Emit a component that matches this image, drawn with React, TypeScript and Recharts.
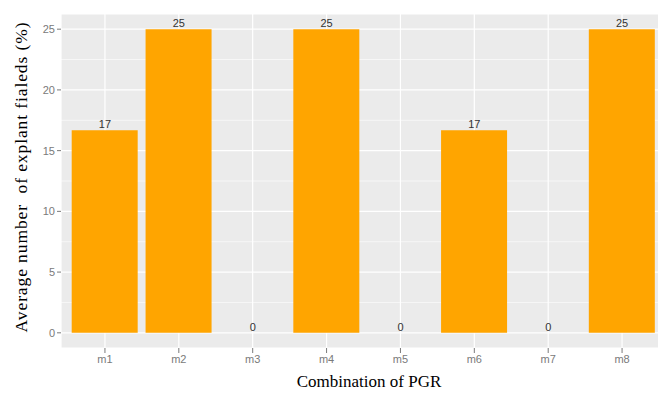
import React from 'react';
import { ComposedChart, Bar, Line, XAxis, YAxis, CartesianGrid, LabelList } from 'recharts';

const combos = ['m1', 'm2', 'm3', 'm4', 'm5', 'm6', 'm7', 'm8'];
const failed = [16.67, 25, 0, 25, 0, 16.67, 0, 25];
const majorTicks = [0, 5, 10, 15, 20, 25];
const minorTicks = [2.5, 7.5, 12.5, 17.5, 22.5];

const data = combos.map((c, i) => ({ combo: c, value: failed[i] }));

const tickStyle = { fontSize: 11, fill: '#7a7a7a', fontFamily: 'Liberation Sans, Arial, sans-serif' };
const serif = 'Liberation Serif, Times New Roman, serif';

const YTitle = () => (
  <text
    x={21}
    y={177}
    transform="rotate(-90 21 177)"
    textAnchor="middle"
    dominantBaseline="central"
    fontSize={17.5}
    fontFamily={serif}
    letterSpacing={0.9}
    fill="#000"
    style={{ whiteSpace: 'pre' }}
  >
    Average number  of explant fialeds (%)
  </text>
);

const XTitle = () => (
  <text x={369} y={387} textAnchor="middle" fontSize={17} fontFamily={serif} fill="#000">
    Combination of PGR
  </text>
);

export default function App() {
  return (
    <div style={{ position: 'absolute', left: 0, top: 0, width: 658, height: 393, overflow: 'hidden', background: '#fff' }}>
      <ComposedChart
        width={666}
        height={393}
        data={data}
        margin={{ top: 14, right: 0, bottom: 0, left: 0 }}
        barCategoryGap="5%"
      >
        <CartesianGrid
          fill="#ebebeb"
          stroke="#ffffff"
          strokeWidth={0.6}
          vertical={false}
          horizontalValues={minorTicks}
        />
        <CartesianGrid stroke="#ffffff" strokeWidth={1.2} fill="none" />
        <XAxis
          dataKey="combo"
          height={45}
          padding={{ left: 7, right: 7 }}
          tick={tickStyle}
          tickLine={{ stroke: '#7a7a7a' }}
          tickSize={5}
          axisLine={false}
          label={<XTitle />}
        />
        <YAxis
          width={61}
          domain={[-1.25, 26.25]}
          ticks={majorTicks}
          allowDataOverflow
          tick={tickStyle}
          tickLine={{ stroke: '#7a7a7a' }}
          tickSize={4}
          axisLine={false}
          label={<YTitle />}
        />
        <Bar dataKey="value" fill="#ffa500" isAnimationActive={false} />
        <Line
          dataKey="value"
          stroke="none"
          dot={false}
          activeDot={false}
          isAnimationActive={false}
        >
          <LabelList
            dataKey="value"
            position="top"
            offset={2}
            formatter={(v: number) => String(Math.round(v))}
            style={{ fontSize: 11, fill: '#333', fontFamily: 'Liberation Sans, Arial, sans-serif' }}
          />
        </Line>
      </ComposedChart>
    </div>
  );
}
